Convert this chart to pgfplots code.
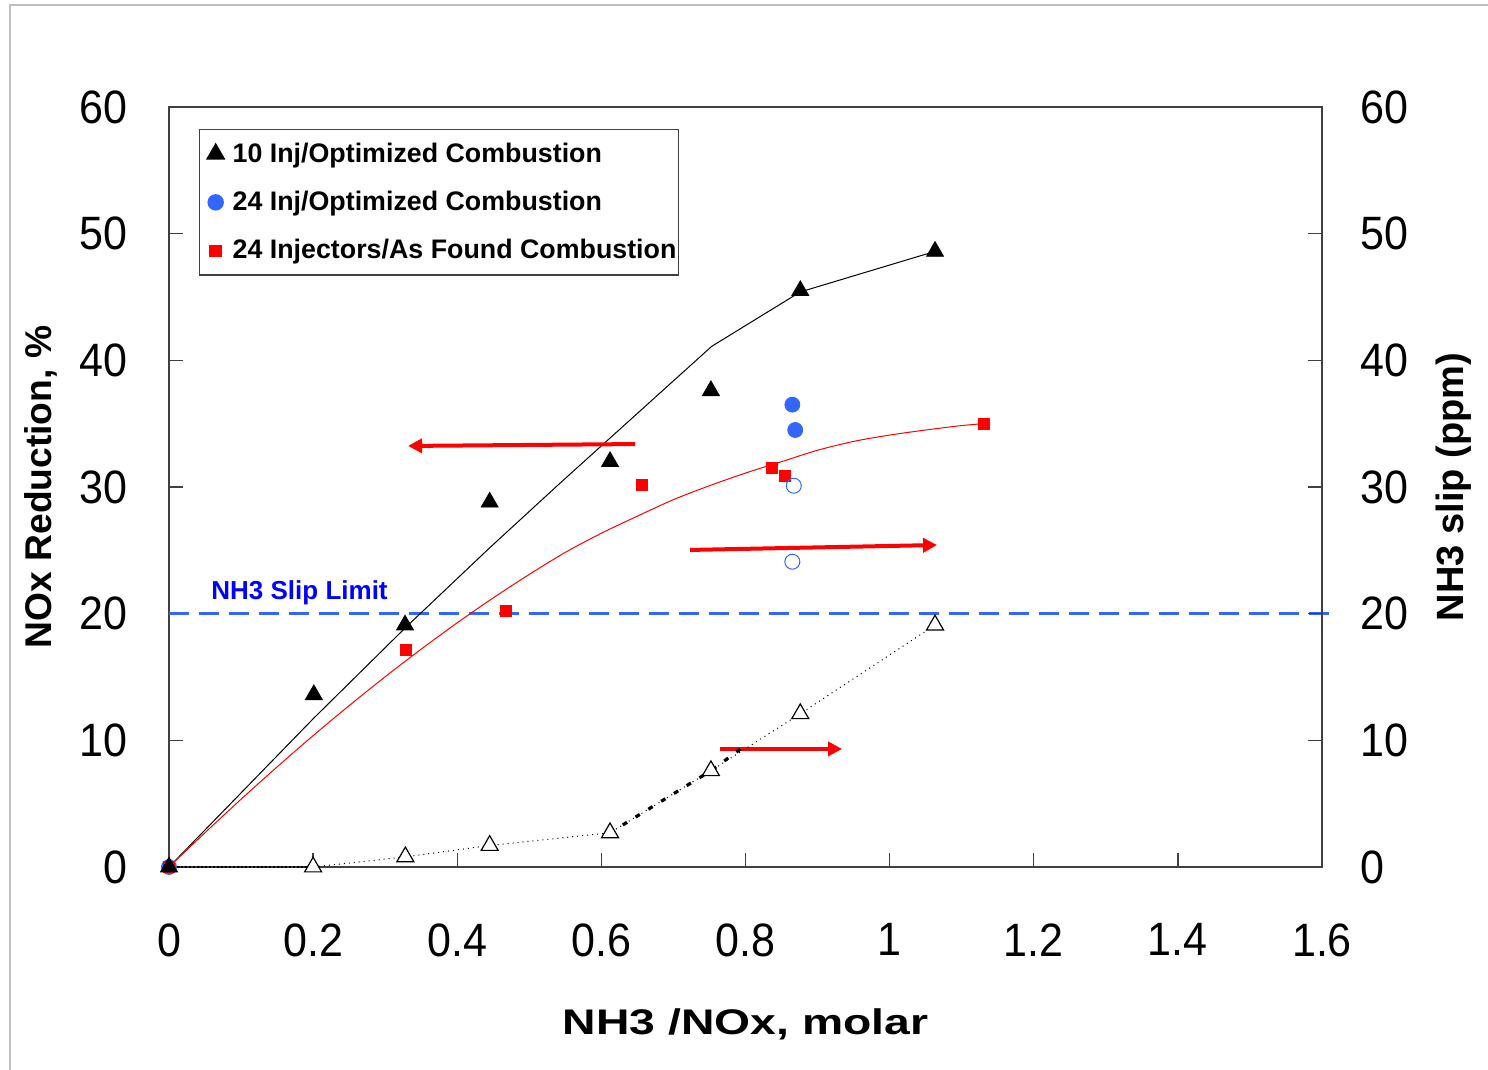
\documentclass[border=0pt]{standalone}
\usepackage{pgfplots}
\pgfplotsset{compat=1.18}
\usetikzlibrary{arrows.meta}
\usepackage{fontspec}
\setmainfont{Liberation Sans}
\newfontfamily\tickfont[FakeStretch=0.92]{Liberation Sans}
\newfontfamily\xlabfont[FakeStretch=1.3]{Liberation Sans}
\definecolor{mblue}{RGB}{51,102,255}
\definecolor{lblue}{RGB}{0,0,255}
\begin{document}
\begin{tikzpicture}
\pgfplotsset{
  common/.style={
    scale only axis, width=576.5pt, height=380pt,
    xmin=0, xmax=1.6, ymin=0, ymax=60,
    ytick={0,10,20,30,40,50,60},
    tick align=inside, major tick length=7pt,
    every tick/.style={black!75, line width=0.7pt},
    /pgf/number format/assume math mode=true,
    tick label style={font=\tickfont\fontsize{23.4}{28}\selectfont},
    axis line style={black!75, line width=0.7pt},
  }
}
\begin{axis}[common, clip=false,
  xtick={0,0.2,0.4,0.6,0.8,1,1.2,1.4,1.6},
  xtick pos=left, ytick pos=left,
  xticklabel style={anchor=north, inner sep=0pt, yshift=-28pt},
  yticklabel style={anchor=east, inner sep=0pt, xshift=-20.5pt},
  xlabel={NH3 /NOx, molar},
  ylabel={NOx Reduction, \%},
  every axis x label/.style={at={(axis description cs:0.5,0)}, anchor=north, inner sep=0pt, yshift=-70.5pt, font=\xlabfont\bfseries\fontsize{17.8}{21}\selectfont},
  every axis y label/.style={at={(axis description cs:-0.1015,0.5)}, anchor=base, rotate=90, inner sep=0pt, font=\bfseries\fontsize{18.6}{22}\selectfont},
  legend style={at={(axis description cs:0.026,0.971)}, anchor=north west, draw=black!75, line width=0.7pt, fill=white, inner xsep=1pt, inner ysep=6.5pt, row sep=13pt, font=\bfseries\fontsize{13.4}{16}\selectfont, nodes={inner sep=0pt}},
  legend cell align=left,
  legend image code/.code={\path[draw=none, fill=none] (0pt,0pt) rectangle (15.5pt,0pt); \path[#1, draw=none] plot coordinates {(7pt,0pt)};},
]
\addlegendimage{only marks, mark=triangle*, mark options={draw=black, fill=black}, mark size=4.9pt}
\addlegendentry{10 Inj/Optimized Combustion}
\addlegendimage{only marks, mark=*, mark options={draw=mblue, fill=mblue}, mark size=3.75pt}
\addlegendentry{24 Inj/Optimized Combustion}
\addlegendimage{only marks, mark=square*, mark options={draw=red, fill=red}, mark size=2.75pt}
\addlegendentry{24 Injectors/As Found Combustion}

% slip limit
\addplot[mblue, line width=1.2pt, dash pattern=on 10pt off 5pt, forget plot] coordinates {(0,20) (1.612,20)};
\node[anchor=base west, text=lblue, font=\bfseries\fontsize{13}{15}\selectfont, inner sep=0pt] at (axis cs:0.0583,21.08) {NH3 Slip Limit};

% fitted lines
\addplot[black, line width=0.5pt, forget plot] coordinates {
(0,0) (0.2,11.7) (0.33,19.0) (0.445,25.2) (0.5426,30.3) (0.753,41.1) (0.876,45.4) (1.063,48.6)};
\addplot[red, line width=0.5pt, smooth, forget plot] coordinates {
(0,0) (0.05,2.71) (0.1,5.35) (0.15,7.90) (0.2,10.37) (0.25,12.74) (0.3,15.02) (0.35,17.20)
(0.4,19.28) (0.45,21.25) (0.5,23.10) (0.55,24.84) (0.6,26.35) (0.65,27.70) (0.7,29.0)
(0.75,30.1) (0.8,31.1) (0.85,32.0) (0.9,32.9) (0.95,33.6) (1.0,34.1) (1.05,34.5) (1.1,34.85) (1.131,35.0)};

% markers
\addplot[only marks, mark=*, mblue, mark size=3.75pt, forget plot] coordinates {(0,0) (0.865,36.5) (0.869,34.5)};
\addplot[only marks, mark=square*, red, mark size=2.75pt, forget plot] coordinates {
(0,0) (0.329,17.1) (0.468,20.2) (0.656,30.2) (0.837,31.5) (0.855,30.9) (1.131,35.0)};
\addplot[only marks, mark=triangle*, black, mark size=4.9pt, forget plot] coordinates {
(0,0) (0.201,13.6) (0.3275,19.1) (0.445,28.8) (0.612,32.0) (0.752,37.6) (0.876,45.5) (1.063,48.6)};

% arrows
\draw[red, line width=2pt, -{Triangle[length=7pt,width=7pt]}] (axis cs:0.6467,33.39) -- (axis cs:0.3317,33.24);
\draw[red, line width=2pt, -{Triangle[length=7pt,width=7pt]}] (axis cs:0.723,25.03) -- (axis cs:1.0658,25.42);
\draw[red, line width=2pt, -{Triangle[length=7pt,width=7pt]}] (axis cs:0.7646,9.32) -- (axis cs:0.934,9.32);
\end{axis}

\begin{axis}[common, clip=false, axis x line=none, axis y line*=right,
  yticklabel style={anchor=west, inner sep=0pt, xshift=19pt},
  ylabel={NH3 slip (ppm)},
  every axis y label/.style={at={(axis description cs:1.1223,0.5)}, anchor=base, rotate=90, inner sep=0pt, font=\bfseries\fontsize{19}{22}\selectfont},
]
\addplot[black, line width=0.5pt, dotted, forget plot] coordinates {
(0,0) (0.2,0) (0.328,0.8) (0.445,1.7) (0.612,2.7) (0.752,7.6) (0.876,12.1) (1.063,19.1)};
\addplot[black, line width=1.6pt, dash pattern=on 2.5pt off 5pt, forget plot] coordinates {
(0.612,2.7) (0.752,7.6) (0.80,9.6)};
\addplot[black, line width=1.0pt, densely dotted, forget plot] coordinates {(0,0) (0.2,0)};
\addplot[only marks, mark=o, mblue, mark size=3.75pt, mark options={fill=white, line width=0.5pt}, forget plot] coordinates {(0.867,30.1) (0.865,24.1)};
\addplot[only marks, mark=triangle*, black, mark size=4.9pt, mark options={fill=white, line width=0.6pt}, forget plot] coordinates {
(0.2,0) (0.328,0.8) (0.445,1.7) (0.612,2.7) (0.752,7.6) (0.876,12.1) (1.063,19.1)};
\end{axis}

\draw[black!25, line width=0.6pt] (-79.5pt,-101.5pt) -- (-79.5pt,431pt) -- (659.5pt,431pt);
\pgfresetboundingbox
\path[use as bounding box] (-84.5pt,-101.5pt) rectangle (659.5pt,433.5pt);
\end{tikzpicture}
\end{document}
